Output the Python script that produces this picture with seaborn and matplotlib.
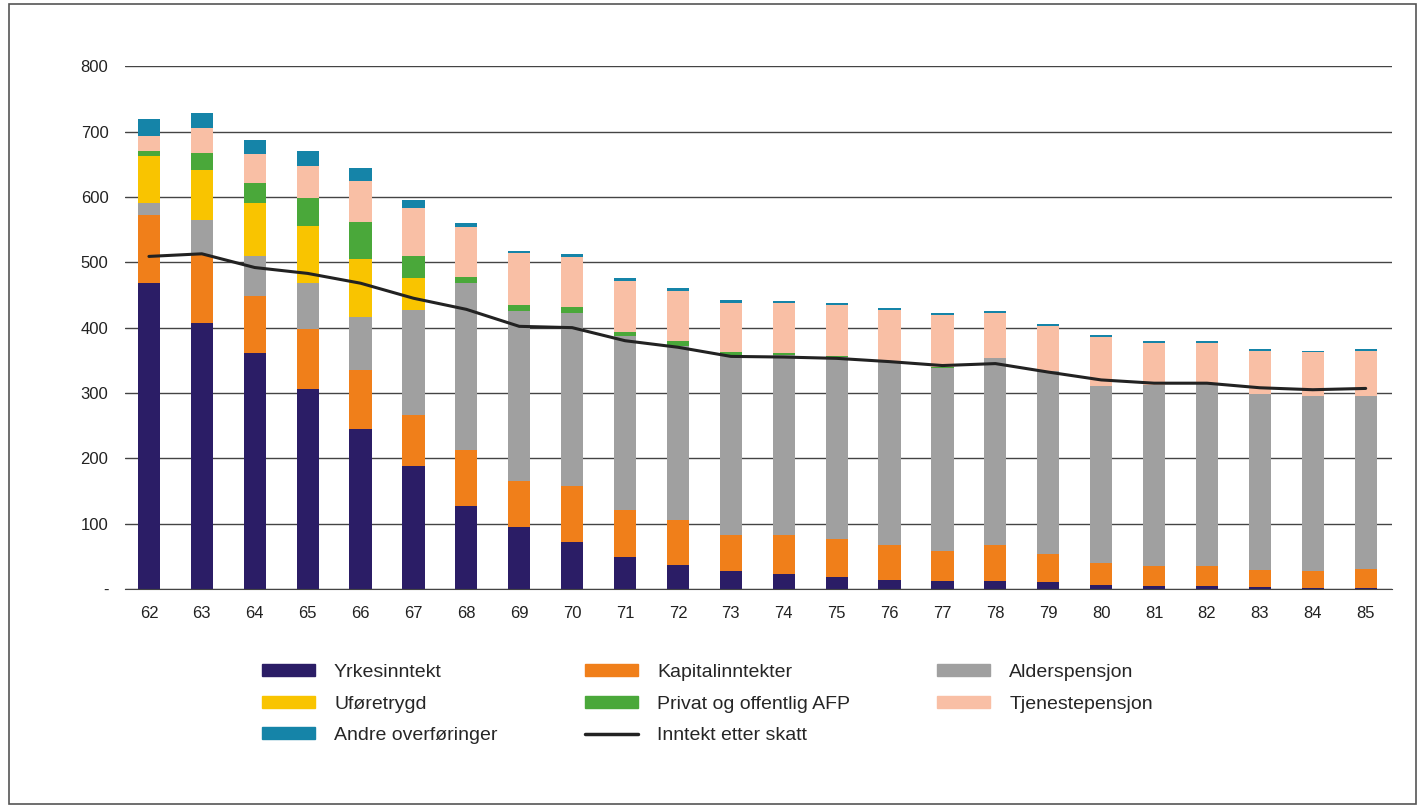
import numpy as np
import pandas as pd
import seaborn as sns
import matplotlib.pyplot as plt
from matplotlib.patches import Patch, Rectangle
from matplotlib.lines import Line2D

ages = [str(a) for a in range(62, 86)]
yrkesinntekt = [469, 407, 361, 306, 245, 188, 127, 95, 72, 49, 37, 28, 23, 18, 14, 13, 12, 11, 6, 5, 4, 3, 2, 2]
kapitalinntekter = [103, 104, 87, 92, 90, 78, 86, 70, 85, 72, 69, 55, 60, 58, 53, 45, 55, 43, 34, 30, 31, 26, 25, 29]
alderspensjon = [18, 53, 61, 71, 81, 161, 256, 260, 265, 266, 266, 275, 275, 279, 280, 281, 286, 279, 270, 277, 280, 269, 268, 264]
uforetrygd = [72, 77, 81, 86, 89, 49, 0, 0, 0, 0, 0, 0, 0, 0, 0, 0, 0, 0, 0, 0, 0, 0, 0, 0]
afp = [8, 26, 31, 43, 56, 33, 8, 9, 9, 7, 7, 4, 3, 2, 1, 1, 0, 0, 0, 0, 0, 0, 0, 0]
tjenestepensjon = [24, 38, 44, 50, 63, 74, 77, 80, 77, 77, 77, 75, 76, 77, 79, 79, 70, 70, 75, 64, 61, 67, 67, 69]
andre = [25, 23, 22, 22, 20, 13, 6, 4, 4, 5, 4, 5, 4, 4, 3, 3, 3, 3, 3, 3, 3, 3, 3, 3]
etter_skatt = [509, 513, 492, 483, 468, 445, 428, 402, 400, 380, 370, 356, 355, 353, 348, 342, 345, 332, 320, 315, 315, 308, 305, 307]

series = [
    ("Yrkesinntekt", yrkesinntekt, "#2b1d66"),
    ("Kapitalinntekter", kapitalinntekter, "#f07f1a"),
    ("Alderspensjon", alderspensjon, "#a0a0a0"),
    ("Uføretrygd", uforetrygd, "#f9c400"),
    ("Privat og offentlig AFP", afp, "#4aa83a"),
    ("Tjenestepensjon", tjenestepensjon, "#f9bfa5"),
    ("Andre overføringer", andre, "#1584a8"),
]

sns.set_style("white")
plt.rcParams['font.family'] = ['Liberation Sans', 'DejaVu Sans']

fig = plt.figure(figsize=(14.22, 8.08), dpi=100)
ax = fig.add_axes([0.088, 0.271, 0.891, 0.647])

cum = np.cumsum(np.array([s[1] for s in series]), axis=0)
# draw from the top layer down so lower layers cover the cumulative bars
for i in range(len(series) - 1, -1, -1):
    df = pd.DataFrame({"age": ages, "val": cum[i]})
    sns.barplot(data=df, x="age", y="val", color=series[i][2], saturation=1,
                width=0.42, ax=ax, zorder=2, edgecolor="none", linewidth=0)

ax.plot(np.arange(len(ages)), etter_skatt, color="#222222", lw=2.2, zorder=3)

ax.set_ylim(0, 800)
ax.set_xlim(-0.45, len(ages) - 0.5)
ax.set_yticks(range(0, 801, 100))
ax.set_yticklabels(["-"] + [str(v) for v in range(100, 801, 100)])
ax.yaxis.grid(True, color="#444444", lw=1, zorder=0)
ax.set_axisbelow(True)
ax.set_xlabel("")
ax.set_ylabel("")
for sp in ax.spines.values():
    sp.set_visible(False)
ax.spines["bottom"].set_visible(True)
ax.spines["bottom"].set_color("#444444")
ax.tick_params(axis="both", length=0, labelsize=12, colors="#222222", pad=12)

handles = [Patch(color=c, label=n) for n, _, c in series]
handles.append(Line2D([], [], color="#222222", lw=2.5, label="Inntekt etter skatt"))
order = [0, 3, 6, 1, 4, 7, 2, 5]
fig.legend([handles[i] for i in order], [handles[i].get_label() for i in order],
           loc="upper left", bbox_to_anchor=(0.172, 0.2), ncol=3, frameon=False,
           fontsize=14, handlelength=2.7, handleheight=0.6, columnspacing=4.5,
           labelspacing=0.75, handletextpad=1.0)

fig.patches.append(Rectangle((0.006, 0.005), 0.99, 0.99, transform=fig.transFigure,
                             fill=False, edgecolor="#555555", lw=1.2))
fig.savefig("out.png", dpi=100)
